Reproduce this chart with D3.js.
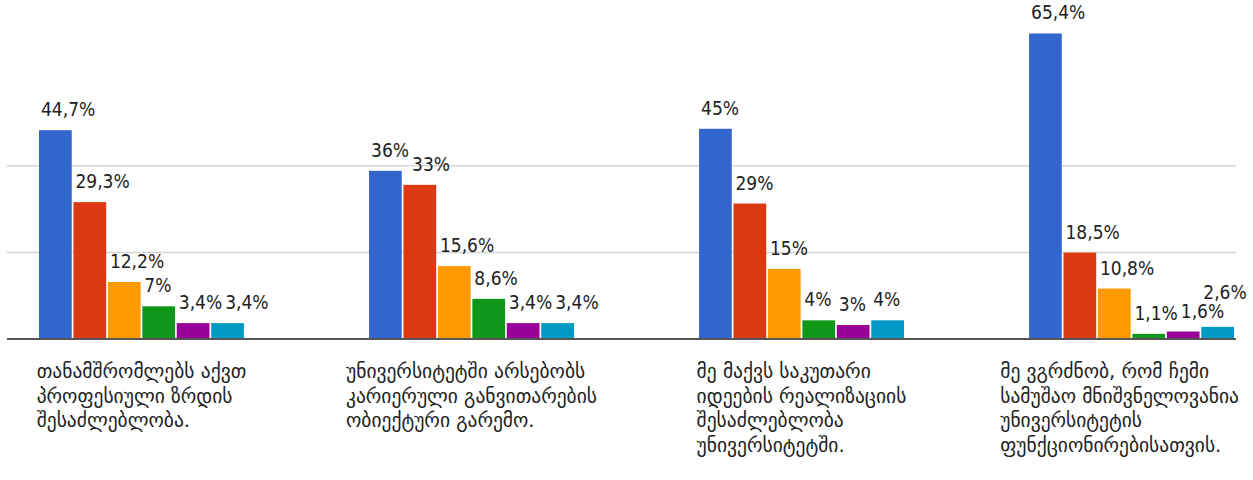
<!DOCTYPE html>
<meta charset='utf-8'>
<head>
    <title>Grouped bars</title>
    <script src='https://cdn.jsdelivr.net/npm/d3@7'></script>
</head>

<style>
    body { margin: 0; background: white; }
    .grid line { stroke: #d4d4d4; stroke-width: 1.5px; }
    .grid path { display: none; }
    .val { font-family: 'DejaVu Sans', sans-serif; font-stretch: condensed; font-size: 19px; fill: #222; }
    .cat { font-family: 'DejaVu Sans', sans-serif; font-size: 19.5px; fill: #222; }
</style>

<svg></svg>

<script>
    var vWidth = 1253;
    var vHeight = 480;

    // category labels, already broken into lines
    var vCategories = [
        ['თანამშრომლებს აქვთ', 'პროფესიული ზრდის', 'შესაძლებლობა.'],
        ['უნივერსიტეტში არსებობს', 'კარიერული განვითარების', 'ობიექტური გარემო.'],
        ['მე მაქვს საკუთარი', 'იდეების რეალიზაციის', 'შესაძლებლობა', 'უნივერსიტეტში.'],
        ['მე ვგრძნობ, რომ ჩემი', 'სამუშაო მნიშვნელოვანია', 'უნივერსიტეტის', 'ფუნქციონირებისათვის.']
    ];

    // one array per series (percent), one value per category
    var vBlue   = [44.7, 36, 45, 65.4];
    var vRed    = [29.3, 33, 29, 18.5];
    var vOrange = [12.2, 15.6, 15, 10.8];
    var vGreen  = [7, 8.6, 4, 1.1];
    var vPurple = [3.4, 3.4, 3, 1.6];
    var vCyan   = [3.4, 3.4, 4, 2.6];

    var vSeries = [vBlue, vRed, vOrange, vGreen, vPurple, vCyan];
    var vColors = ['#3366cc', '#dc3912', '#ff9900', '#109618', '#990099', '#0099c6'];
    var vGrid = [18.6, 37.2];

    var svg = d3.select('svg').attr('width', vWidth).attr('height', vHeight);

    var x0 = d3.scaleBand().domain(d3.range(vCategories.length)).range([39, 1234]).paddingInner(0.379);
    var x1 = d3.scaleBand().domain(d3.range(vSeries.length)).range([0, x0.bandwidth()]).paddingInner(0.05);
    var y = d3.scaleLinear().domain([0, 70]).range([339, 12]);

    // gridlines
    svg.append('g').attr('class', 'grid')
        .attr('transform', 'translate(7,0)')
        .call(d3.axisLeft(y).tickValues(vGrid).tickSize(-1229).tickFormat(''));

    // flat rows for bars
    var vRows = [];
    vCategories.forEach(function (c, i) {
        vSeries.forEach(function (s, j) {
            vRows.push({cat: i, ser: j, value: s[i]});
        });
    });

    var groups = svg.selectAll('g.group').data(vCategories).enter().append('g')
        .attr('class', 'group')
        .attr('transform', function (d, i) { return 'translate(' + x0(i) + ',0)'; });

    groups.selectAll('rect').data(function (d, i) {
            return vRows.filter(function (r) { return r.cat === i; });
        }).enter().append('rect')
        .attr('x', function (d) { return x1(d.ser); })
        .attr('y', function (d) { return y(d.value); })
        .attr('width', x1.bandwidth())
        .attr('height', function (d) { return y(0) - y(d.value); })
        .attr('fill', function (d) { return vColors[d.ser]; });

    // baseline
    svg.append('line')
        .attr('x1', 7).attr('x2', 1236)
        .attr('y1', y(0)).attr('y2', y(0))
        .attr('stroke', '#555').attr('stroke-width', 2);

    // value labels, nudged right (or up) when they bump into a neighbour
    var fmt = function (v) { return String(v).replace('.', ',') + '%'; };
    var gap = 19;
    vCategories.forEach(function (c, i) {
        var placed = [];
        var limit = Math.min(x0(i) + x0.bandwidth() + 30, vWidth - 4);
        vSeries.forEach(function (s, j) {
            var t = svg.append('text').attr('class', 'val').text(fmt(s[i]));
            var w = t.node().getComputedTextLength();
            var lx = x0(i) + x1(j) + 2;
            var ly = y(s[i]) - 14;
            placed.forEach(function (p) {
                if (lx < p.r + 2 && Math.abs(ly - p.y) < gap) {
                    if (p.r + 3 + w <= limit) {
                        lx = p.r + 3;
                    } else {
                        ly = p.y - gap;
                    }
                }
            });
            t.attr('x', lx).attr('y', ly);
            placed.push({l: lx, r: lx + w, y: ly});
        });
    });

    // category labels, block centred under each group
    var cats = svg.selectAll('text.cat').data(vCategories).enter().append('text')
        .attr('class', 'cat').attr('y', 378);
    cats.selectAll('tspan').data(function (d) { return d; }).enter().append('tspan')
        .attr('x', 0)
        .attr('dy', function (d, k) { return k === 0 ? 0 : 24.5; })
        .text(function (d) { return d; });
    cats.each(function (d, i) {
        var bw = this.getBBox().width;
        var cx = x0(i) + x0.bandwidth() / 2;
        var lx = Math.max(12, Math.min(cx - bw / 2, vWidth - 14 - bw));
        d3.select(this).selectAll('tspan').attr('x', lx);
    });
</script>
